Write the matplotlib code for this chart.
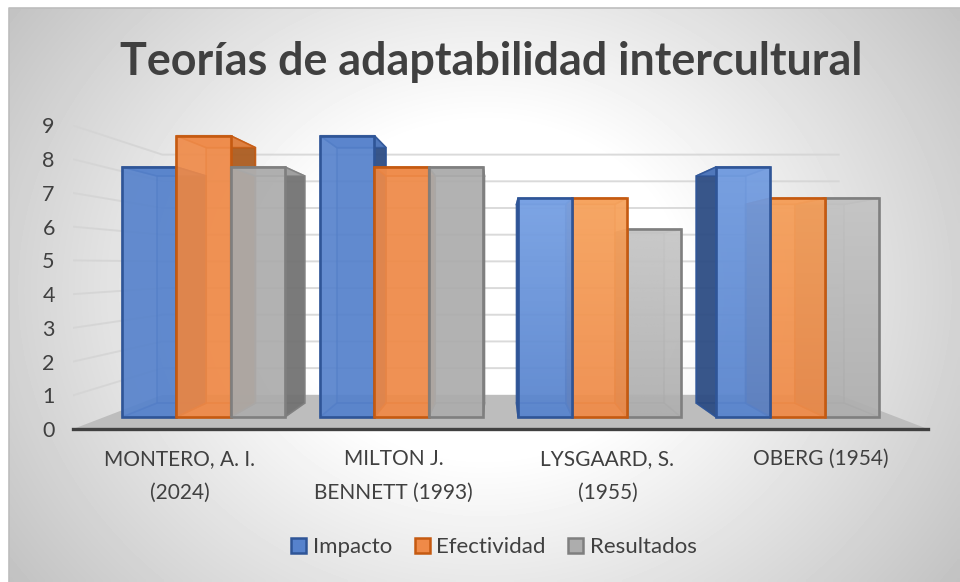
import matplotlib
matplotlib.use("Agg")
import matplotlib.pyplot as plt
from matplotlib.colors import to_rgb
from matplotlib.patches import Patch, Polygon
import numpy as np

plt.rcParams["font.family"] = ["Lato", "DejaVu Sans"]

categories = ["MONTERO, A. I.\n(2024)", "MILTON J.\nBENNETT (1993)", "LYSGAARD, S.\n(1955)", "OBERG (1954)"]
impacto = [8, 9, 7, 8]
efectividad = [9, 8, 7, 7]
resultados = [8, 8, 6, 7]
series_names = ["Impacto", "Efectividad", "Resultados"]
y_ticks = list(range(10))
title = "Teorías de adaptabilidad intercultural"

W, H = 960, 582
TEXT = "#404040"
face = ["#5682cc", "#ef8a48", "#adadad"]
edge = ["#2f5597", "#c55a11", "#7f7f7f"]
side = ["#2b4a80", "#a85a1e", "#707070"]
light = ["#a0c6ff", "#ffc27a", "#e6e6e6"]

# fake 3d box, everything is scaled around this vanishing point (data units)
VX, VY = 1.5, 4.864
BAR_W = 0.274
BACK = 0.908
WALL = 0.854
FLOOR = 1.08
PX_X, PX_Y = 198.0, 31.25
ORIGIN_X, ORIGIN_Y = 203.5, 417.0
# lighter top on the groups right of centre
sheen = [0.0, 0.0, 0.45, 0.38]


def proj(x, v, s=1.0):
    return VX + (x - VX) * s, VY + (v - VY) * s


fig = plt.figure(figsize=(W / 100, H / 100), dpi=100)
fig.patch.set_facecolor("white")

# background, starts a little inside the picture
bg = fig.add_axes([0, 0, 1, 1], zorder=0)
xx, yy = np.meshgrid(np.linspace(9, W, 240), np.linspace(8, H, 146))
rr = np.sqrt(((xx - 485) / 560) ** 2 + ((yy - 290) / 480) ** 2)
bg.imshow(1 - np.clip((rr - 0.35) / 0.667, 0, 1.1) * 0.23, cmap="gray", vmin=0, vmax=1,
          extent=[9, W, H, 8], aspect="auto", interpolation="bilinear")
bg.plot([9, 9, W], [H, 8, 8], color="#bdbdbd", lw=1.2)
bg.set_xlim(0, W)
bg.set_ylim(H, 0)
bg.set_axis_off()

x0, v0 = proj(-0.5, 0, FLOOR)
x1, v1 = proj(3.5, 9, FLOOR)
left = ORIGIN_X + x0 * PX_X
right = ORIGIN_X + x1 * PX_X
bottom = ORIGIN_Y - v0 * PX_Y
top = ORIGIN_Y - v1 * PX_Y
ax = fig.add_axes([left / W, 1 - bottom / H, (right - left) / W, (bottom - top) / H], zorder=2)
ax.patch.set_visible(False)
ax.set_xlim(x0, x1)
ax.set_ylim(v0, v1)

# floor
ax.add_patch(Polygon([proj(-0.5, 0, FLOOR), proj(3.5, 0, FLOOR), proj(3.5, 0, WALL), proj(-0.5, 0, WALL)],
                     closed=True, fc="#bdbdbd", ec="none", zorder=1))
# wall grid lines
for t in y_ticks[1:]:
    a = proj(-0.5, t, FLOOR)
    b = proj(-0.5, t, WALL)
    c = proj(3.5, t, WALL)
    ax.plot([a[0], b[0], c[0]], [a[1], b[1], c[1]], color="#d4d4d4", lw=1.4, zorder=1.5, alpha=0.85,
            solid_joinstyle="miter")


def draw_bar(x, val, k, group, z):
    xl, xr = x, x + BAR_W
    lw = 1.9
    bl, br = proj(xl, 0, BACK), proj(xr, 0, BACK)
    tl, tr = proj(xl, val, BACK), proj(xr, val, BACK)
    fl, fr = (xl, 0), (xr, 0)
    gl, gr = (xl, val), (xr, val)
    # back and floor of the bar
    ax.add_patch(Polygon([bl, br, tr, tl], fc=face[k], ec=edge[k], lw=1.2, alpha=0.45, zorder=z))
    ax.add_patch(Polygon([fl, fr, br, bl], fc=face[k], ec=edge[k], lw=1.2, alpha=0.55, zorder=z))
    # side walls, the one facing outward is the dark one
    outer_right = xl + BAR_W / 2 < VX
    ax.add_patch(Polygon([fl, gl, tl, bl], fc=side[k] if not outer_right else face[k], ec=edge[k], lw=1.2,
                         alpha=0.9 if not outer_right else 0.3, zorder=z))
    ax.add_patch(Polygon([fr, gr, tr, br], fc=side[k] if outer_right else face[k], ec=edge[k], lw=1.2,
                         alpha=0.9 if outer_right else 0.3, zorder=z))
    ax.add_patch(Polygon([gl, gr, tr, tl], fc=face[k], ec=edge[k], lw=1.2, alpha=0.75, zorder=z))
    # front
    rect = ax.bar(xl, val, BAR_W, align="edge", color=face[k], alpha=0.88, zorder=z)[0]
    if sheen[group] > 0:
        grad = np.zeros((64, 2, 4))
        grad[..., :3] = to_rgb(light[k])
        grad[..., 3] = np.linspace(sheen[group], 0.03, 64)[:, None]
        im = ax.imshow(grad, extent=[xl, xr, 0, val], origin="upper", aspect="auto", zorder=z)
        im.set_clip_path(rect)
    ax.bar(xl, val, BAR_W, align="edge", color="none", edgecolor=edge[k], lw=lw, zorder=z)


values = [impacto, efectividad, resultados]
order = []
for g in range(len(categories)):
    for k in range(3):
        x = g - 1.5 * BAR_W + k * BAR_W
        order.append((abs(x + BAR_W / 2 - VX), x, values[k][g], k, g))
order.sort(key=lambda b: -b[0])
for n, (_, x, val, k, g) in enumerate(order):
    draw_bar(x, val, k, g, 3 + n * 0.1)

ax.set_xlim(x0, x1)
ax.set_ylim(v0, v1)
for s in ["top", "left", "right"]:
    ax.spines[s].set_visible(False)
ax.spines["bottom"].set_color(TEXT)
ax.spines["bottom"].set_linewidth(2.4)
ax.spines["bottom"].set_zorder(10)
ax.set_yticks([])
ax.set_xticks([])

# tick labels follow the front edge of the floor, not the bars
wall_ax = fig.add_axes(ax.get_position(), zorder=3)
wall_ax.patch.set_visible(False)
wall_ax.set_xlim(-0.5, 3.5)
wall_ax.set_ylim(0, 9)
wall_ax.set_yticks(y_ticks)
wall_ax.set_xticks(range(len(categories)))
wall_ax.set_xticklabels(categories, fontsize=15, color=TEXT, linespacing=1.85, va="top")
wall_ax.tick_params(axis="x", length=0, pad=14.5)
wall_ax.tick_params(axis="y", length=0, pad=13, labelsize=15.5, labelcolor=TEXT)
for s in wall_ax.spines.values():
    s.set_visible(False)

handles = [Patch(fc=face[k], ec=edge[k], lw=1.8, label=series_names[k]) for k in range(3)]
fig.legend(handles=handles, loc="center", bbox_to_anchor=(494 / W, 1 - 547 / H), ncol=3, frameon=False,
           fontsize=16, labelcolor=TEXT, handlelength=0.68, handleheight=0.68, handletextpad=0.3,
           columnspacing=1.0)

fig.text(491 / W, 1 - 62 / H, title, fontsize=32.3, fontweight="bold", color=TEXT, ha="center", va="center",
         zorder=5)

fig.savefig("out.png", dpi=100)
